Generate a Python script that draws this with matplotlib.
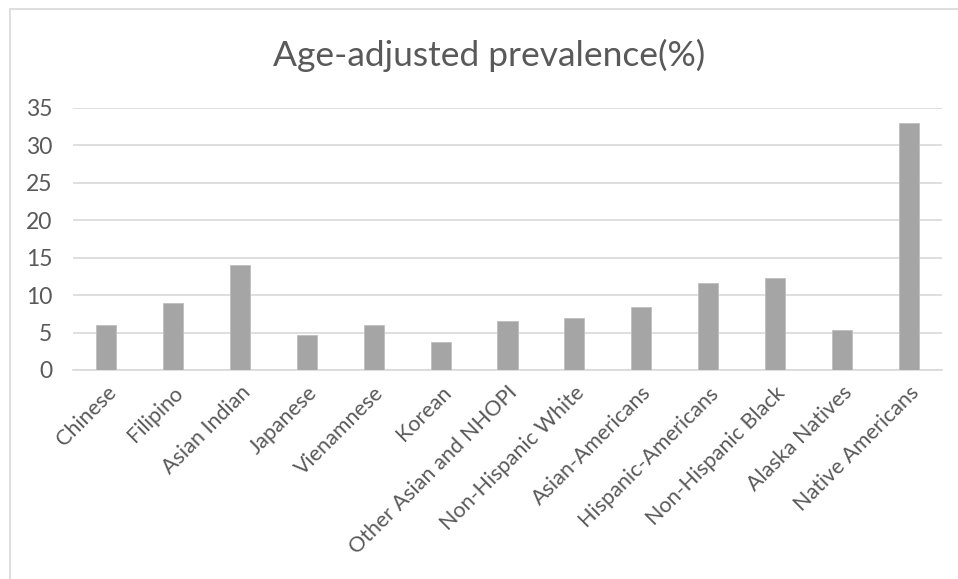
import matplotlib
matplotlib.use("Agg")
import matplotlib.pyplot as plt
from matplotlib.patches import Rectangle

categories = ["Chinese", "Filipino", "Asian Indian", "Japanese", "Vienamnese", "Korean",
              "Other Asian and NHOPI", "Non-Hispanic White", "Asian-Americans",
              "Hispanic-Americans", "Non-Hispanic Black", "Alaska Natives", "Native Americans"]
prevalence = [6.0, 8.9, 14.0, 4.7, 6.0, 3.8, 6.5, 7.0, 8.4, 11.6, 12.3, 5.4, 33.0]
y_ticks = [0, 5, 10, 15, 20, 25, 30, 35]

plt.rcParams['font.family'] = ['Lato', 'DejaVu Sans']
text_color = "#595959"

fig = plt.figure(figsize=(9.58, 5.79), dpi=100)
fig.patch.set_facecolor("white")

# chart frame
fig.patches.append(Rectangle((10 / 958, -0.01), 1.0, (579 - 9) / 579 + 0.01,
                             transform=fig.transFigure, fill=False,
                             edgecolor="#d9d9d9", linewidth=1.2))

ax = fig.add_axes([73 / 958, (579 - 370) / 579, (942 - 73) / 958, (370 - 107.7) / 579])
x = range(len(categories))
ax.bar(x, prevalence, width=0.3, color="#a5a5a5", edgecolor="#bfbfbf", linewidth=0.6, zorder=3)

ax.set_xlim(-0.5, len(categories) - 0.5)
ax.set_ylim(0, 35)
ax.set_yticks(y_ticks)
ax.set_xticks(list(x))
ax.set_xticklabels(categories, rotation=45, ha="right", rotation_mode="anchor",
                   fontsize=15.5, color=text_color)
ax.tick_params(axis="y", labelsize=16.5, labelcolor=text_color, length=0, pad=15)
ax.tick_params(axis="x", length=0, pad=9)
ax.grid(axis="y", color="#d9d9d9", linewidth=1.2, zorder=0)
for s in ["top", "right", "left"]:
    ax.spines[s].set_visible(False)
ax.spines["bottom"].set_color("#d9d9d9")
ax.spines["bottom"].set_linewidth(1.2)

fig.text(489 / 958, 1 - 55 / 579, "Age-adjusted prevalence(%)", ha="center", va="center",
         fontsize=25.5, color=text_color)

fig.savefig("out.png", dpi=100)
